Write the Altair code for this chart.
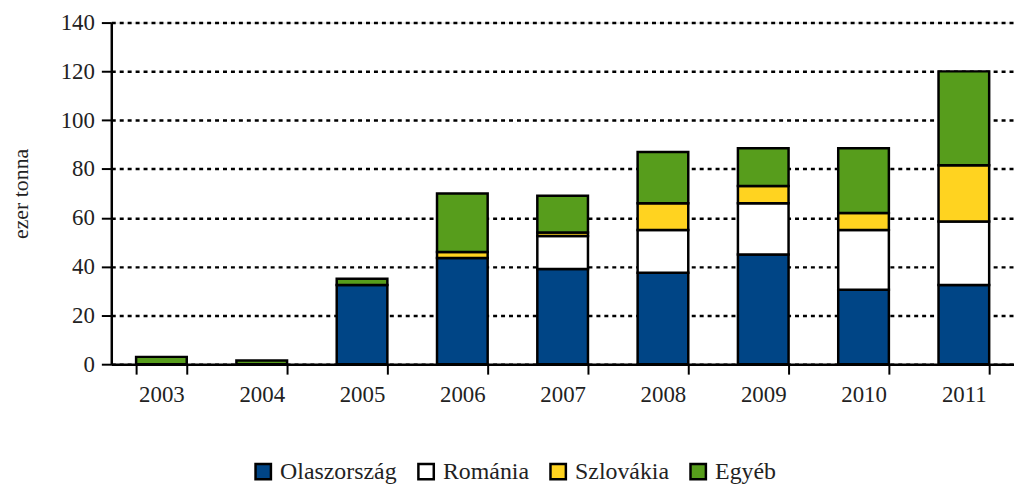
import altair as alt
import pandas as pd

years = ["2003", "2004", "2005", "2006", "2007", "2008", "2009", "2010", "2011"]
series = ["Olaszország", "Románia", "Szlovákia", "Egyéb"]
olasz = [0, 0, 32.5, 43.5, 39, 37.5, 45, 30.5, 32.5]
romania = [0, 0, 0, 0, 13.5, 17.5, 21, 24.5, 26]
szlovakia = [0, 0, 0, 2.5, 1.5, 11, 7, 7, 23]
egyeb = [3, 1.5, 2.5, 24, 15, 21, 15.5, 26.5, 38.5]
colors = ["#004586", "#ffffff", "#ffd320", "#579d1c"]

rows = []
for i, y in enumerate(years):
    for k, (name, vals) in enumerate(zip(series, [olasz, romania, szlovakia, egyeb])):
        if vals[i] > 0:
            rows.append({"year": y, "series": name, "value": vals[i], "ord": k})
df = pd.DataFrame(rows)

font = "Liberation Serif"

chart = alt.Chart(df).mark_bar(stroke="black", strokeWidth=2.5, size=51).encode(
    x=alt.X("year:N", sort=years, title=None,
            scale=alt.Scale(paddingInner=0.5, paddingOuter=0.25),
            axis=alt.Axis(labelAngle=0, tickBand="extent", tickSize=10, tickWidth=2,
                          domainWidth=2.5, domainColor="black", tickColor="black",
                          labelFontSize=23, labelPadding=10, labelFont=font, labelColor="#222")),
    y=alt.Y("value:Q", stack="zero", title="ezer tonna",
            scale=alt.Scale(domain=[0, 140]),
            axis=alt.Axis(values=list(range(0, 141, 20)), tickSize=10, tickWidth=2,
                          domainWidth=2.5, domainColor="black", tickColor="black",
                          grid=True, gridColor="black", gridDash=[4, 4], gridWidth=2.5,
                          labelFontSize=23, labelPadding=7, labelFont=font, labelColor="#222",
                          titleFont=font, titleFontSize=22, titleFontWeight="normal",
                          titleColor="#222", titlePadding=28)),
    color=alt.Color("series:N", sort=series,
                    scale=alt.Scale(domain=series, range=colors),
                    legend=alt.Legend(title=None, orient="none", direction="horizontal",
                                      legendX=141, legendY=440,
                                      symbolType="square", symbolSize=240,
                                      symbolStrokeColor="black", symbolStrokeWidth=2.5,
                                      labelFont=font, labelFontSize=24, labelColor="#222",
                                      columnPadding=16, symbolOffset=0, labelOffset=5)),
    order=alt.Order("ord:Q", sort="ascending"),
).properties(width=909, height=344).configure_view(stroke=None).configure(
    font=font, padding={"left": 1, "top": 2, "right": 0, "bottom": 5})

chart.save("out.html", embed_options={"renderer": "svg", "actions": False})
